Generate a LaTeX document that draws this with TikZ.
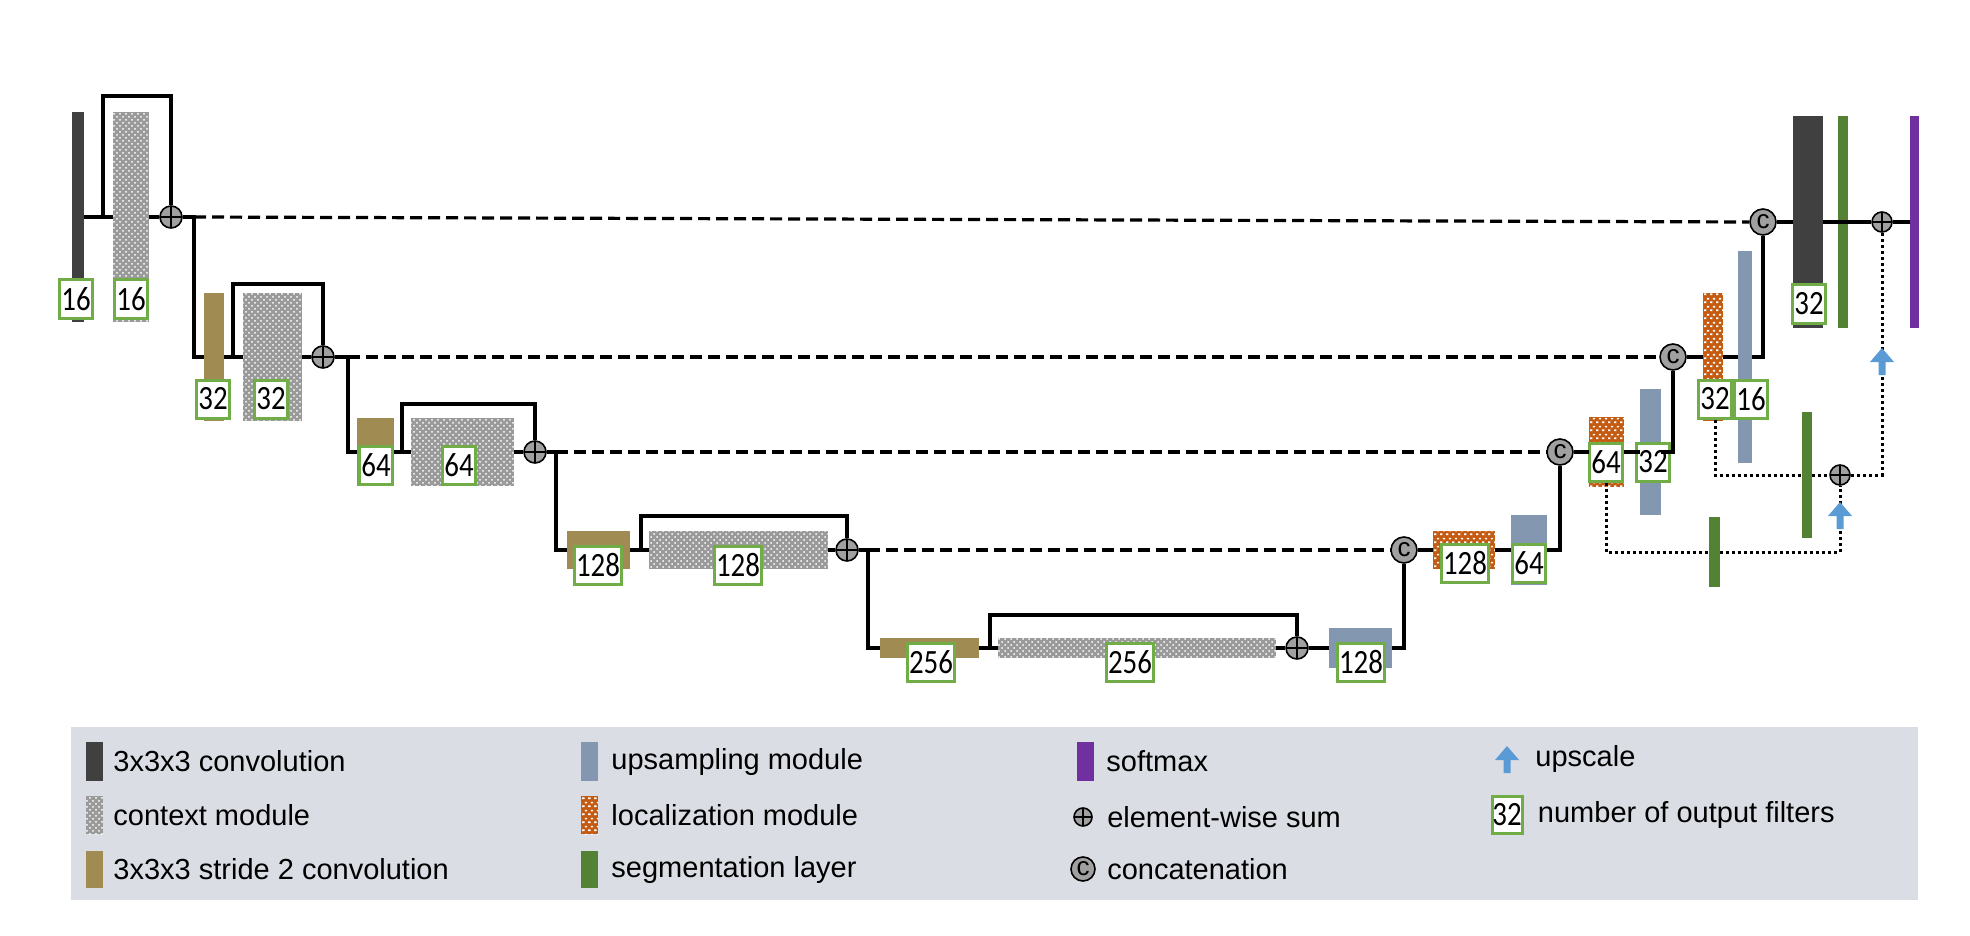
\documentclass[tikz,border=0pt]{standalone}
\usepackage{fontspec}
\setmainfont{Liberation Sans}
\newfontfamily\nffamily[FakeStretch=0.85]{Carlito}
\usetikzlibrary{positioning,fit,patterns}

\definecolor{convgray}{HTML}{404040}
\definecolor{ctxgray}{HTML}{9A9A9A}
\definecolor{strideol}{HTML}{A08B52}
\definecolor{upblue}{HTML}{8497B0}
\definecolor{locorange}{HTML}{C55A11}
\definecolor{seggreen}{HTML}{548235}
\definecolor{smaxpurple}{HTML}{7030A0}
\definecolor{nfgreen}{HTML}{70AD47}
\definecolor{opgray}{HTML}{A0A0A0}
\definecolor{arrowblue}{HTML}{5B9BD5}
\definecolor{legendbg}{HTML}{DADEE4}

% small staggered white bricks for the localization module
\pgfdeclarepatternformonly{locbricks}{\pgfpointorigin}{\pgfqpoint{3pt}{4pt}}{\pgfqpoint{3pt}{4pt}}{%
  \pgfpathrectangle{\pgfqpoint{0.1pt}{0.5pt}}{\pgfqpoint{1.3pt}{0.9pt}}%
  \pgfpathrectangle{\pgfqpoint{1.6pt}{2.5pt}}{\pgfqpoint{1.3pt}{0.9pt}}%
  \pgfusepath{fill}}

% blue block arrow, tip at (#1,#2)
\newcommand{\upscalearrow}[2]{%
  \fill[arrowblue] (#1-3.5,#2+27) -- (#1-3.5,#2+14) -- (#1-12,#2+14)
    -- (#1,#2) -- (#1+12,#2+14) -- (#1+3.5,#2+14) -- (#1+3.5,#2+27) -- cycle;}

\begin{document}
\begin{tikzpicture}[x=0.5pt, y=-0.5pt,
  font=\fontsize{14.5}{17}\selectfont,
  mod/.style={inner sep=0pt, outer sep=0pt},
  conv/.style={mod, fill=convgray},
  ctx/.style={mod, preaction={fill=ctxgray}, pattern=crosshatch dots, pattern color=white},
  stride/.style={mod, fill=strideol},
  upmod/.style={mod, fill=upblue},
  locmod/.style={mod, preaction={fill=locorange}, pattern=locbricks, pattern color=white},
  seg/.style={mod, fill=seggreen},
  smax/.style={mod, fill=smaxpurple},
  nf/.style={draw=nfgreen, line width=1.5pt, fill=white, inner sep=0pt,
    minimum width=16.5pt, minimum height=19pt, font=\nffamily\fontsize{17}{17}\selectfont},
  nfw/.style={nf, minimum width=23.5pt},
  sum/.style={circle, draw, line width=0.8pt, fill=opgray, minimum size=11pt, inner sep=0pt,
    path picture={\draw[line width=0.8pt]
      (path picture bounding box.west) -- (path picture bounding box.east)
      (path picture bounding box.north) -- (path picture bounding box.south);}},
  cat/.style={circle, draw, line width=0.8pt, fill=opgray, minimum size=13pt, inner sep=0pt,
    font=\fontsize{13}{13}\selectfont},
  wire/.style={line width=1.6pt},
  skipline/.style={line width=1.6pt, dash pattern=on 6pt off 3pt},
  deepsup/.style={line width=1.5pt, dash pattern=on 1.5pt off 1.5pt}]
  \useasboundingbox (0,0) rectangle (1970,936);

  % encoder
  \node[conv, fit={(72,112) (84,322)}] (conv1) {};
  \node[ctx, fit={(113,112) (149,322)}] (ctx1) {};
  \node[sum] (sum1) at (171,217) {};
  \node[stride, fit={(204,293) (224,421)}] (stride2) {};
  \node[ctx, fit={(243,293) (302,421)}] (ctx2) {};
  \node[sum] (sum2) at (323,357) {};
  \node[stride, fit={(357,418) (394,486)}] (stride3) {};
  \node[ctx, fit={(411,418) (514,486)}] (ctx3) {};
  \node[sum] (sum3) at (535,452) {};
  \node[stride, fit={(567,531) (630,569)}] (stride4) {};
  \node[ctx, fit={(649,531) (828,569)}] (ctx4) {};
  \node[sum] (sum4) at (847,550) {};
  \node[stride, fit={(880,638) (979,658)}] (stride5) {};
  \node[ctx, fit={(998,638) (1276,658)}] (ctx5) {};
  \node[sum] (sum5) at (1297,648) {};

  % decoder
  \node[upmod, fit={(1329,628) (1392,668)}] (up128) {};
  \node[cat] (cat4) at (1404,550) {c};
  \node[locmod, fit={(1433,531) (1495,569)}] (loc128) {};
  \node[upmod, fit={(1511,515) (1547,585)}] (up64) {};
  \node[cat] (cat3) at (1560,452) {c};
  \node[locmod, fit={(1589,417) (1624,487)}] (loc64) {};
  \node[upmod, fit={(1640,389) (1661,515)}] (up32) {};
  \node[cat] (cat2) at (1673,357) {c};
  \node[locmod, fit={(1703,293) (1723,421)}] (loc32) {};
  \node[upmod, fit={(1738,251) (1752,463)}] (up16) {};
  \node[cat] (cat1) at (1763,222) {c};
  \node[conv, fit={(1793,116) (1823,328)}] (conv32) {};
  \node[seg, fit={(1838,116) (1848,328)}] (seg1) {};
  \node[sum, minimum size=10pt] (sumF) at (1882,222) {};
  \node[smax, fit={(1910,116) (1919,328)}] (smax) {};
  \node[seg, fit={(1802,412) (1812,538)}] (seg2) {};
  \node[sum, minimum size=10pt] (sumS) at (1840,475) {};
  \node[seg, fit={(1709,517) (1720,587)}] (seg3) {};

  % filter counts
  \node[nf] (n-conv1) at (76,299) {16};
  \node[nf] (n-ctx1) at (131,299) {16};
  \node[nf] (n-stride2) at (213,399) {32};
  \node[nf] (n-ctx2) at (271,399) {32};
  \node[nf] (n-stride3) at (376,465) {64};
  \node[nf] (n-ctx3) at (459,465) {64};
  \node[nfw] (n-stride4) at (598,565) {128};
  \node[nfw] (n-ctx4) at (738,565) {128};
  \node[nfw] (n-stride5) at (931,662) {256};
  \node[nfw] (n-ctx5) at (1130,662) {256};
  \node[nfw] (n-up128) at (1361,662) {128};
  \node[nfw] (n-loc128) at (1465,563) {128};
  \node[nf] (n-up64) at (1529,563) {64};
  \node[nf] (n-loc64) at (1606,462) {64};
  \node[nf] (n-up32) at (1653,462) {32};
  \node[nf] (n-loc32) at (1715,399) {32};
  \node[nf] (n-up16) at (1751,399) {16};
  \node[nf] (n-conv32) at (1809,304) {32};

  \coordinate (b1) at (103,217);
  \coordinate (j1) at (194,217);
  \coordinate (b2) at (233,357);
  \coordinate (j2) at (348,357);
  \coordinate (b3) at (402,452);
  \coordinate (j3) at (556,452);
  \coordinate (b4) at (641,550);
  \coordinate (j4) at (868,550);
  \coordinate (b5) at (990,648);

  % encoder wires
  \draw[wire] (conv1.east) -- (ctx1.west);
  \draw[wire] (b1) -- (103,96) -| (sum1.north);
  \draw[wire] (ctx1.east) -- (sum1.west);
  \draw[wire] (sum1.east) -- (j1) |- (stride2.west);
  \draw[wire] (stride2.east) -- (ctx2.west);
  \draw[wire] (b2) -- (233,284) -| (sum2.north);
  \draw[wire] (ctx2.east) -- (sum2.west);
  \draw[wire] (sum2.east) -- (j2) |- (stride3.west);
  \draw[wire] (stride3.east) -- (ctx3.west);
  \draw[wire] (b3) -- (402,404) -| (sum3.north);
  \draw[wire] (ctx3.east) -- (sum3.west);
  \draw[wire] (sum3.east) -- (j3) |- (stride4.west);
  \draw[wire] (stride4.east) -- (ctx4.west);
  \draw[wire] (b4) -- (641,516) -| (sum4.north);
  \draw[wire] (ctx4.east) -- (sum4.west);
  \draw[wire] (sum4.east) -- (j4) |- (stride5.west);
  \draw[wire] (stride5.east) -- (ctx5.west);
  \draw[wire] (b5) -- (990,615) -| (sum5.north);
  \draw[wire] (ctx5.east) -- (sum5.west);

  % skip connections
  \draw[skipline] (j1) -- (cat1.west);
  \draw[skipline] (j2) -- (cat2.west);
  \draw[skipline] (j3) -- (cat3.west);
  \draw[skipline] (j4) -- (cat4.west);

  % decoder wires
  \draw[wire] (sum5.east) -- (up128.west);
  \draw[wire] (up128.east) -| (cat4.south);
  \draw[wire] (cat4.east) -- (loc128.west);
  \draw[wire] (loc128.east) -- (up64.west);
  \draw[wire] (up64.east) -| (cat3.south);
  \draw[wire] (cat3.east) -- (loc64.west);
  \draw[wire] (loc64.east) -- (up32.west);
  \draw[wire] (up32.east) -| (cat2.south);
  \draw[wire] (cat2.east) -- (loc32.west);
  \draw[wire] (loc32.east) -- (up16.west);
  \draw[wire] (up16.east) -| (cat1.south);
  \draw[wire] (cat1.east) -- (conv32.west);
  \draw[wire] (conv32.east) -- (sumF.west);
  \draw[wire] (sumF.east) -- (smax.west);

  % deep supervision
  \draw[deepsup] (n-loc64.south) |- (seg3.west);
  \draw[deepsup] (seg3.east) -| (sumS.south);
  \draw[deepsup] (n-loc32.south) |- (seg2.west);
  \draw[deepsup] (seg2.east) -- (sumS.west);
  \draw[deepsup] (sumS.east) -| (sumF.south);
  \upscalearrow{1882}{348}
  \upscalearrow{1840}{502}

  % legend
  \node[mod, fill=legendbg, fit={(71,727) (1918,900)}] (legend) {};
  \node[conv, fit={(86,742) (103,781)}] (lg-conv) {};
  \node[right=1.7pt of lg-conv] {3x3x3 convolution};
  \node[ctx, fit={(86,796) (103,834)}] (lg-ctx) {};
  \node[right=1.7pt of lg-ctx] {context module};
  \node[stride, fit={(86,851) (103,888)}] (lg-stride) {};
  \node[right=1.7pt of lg-stride] {3x3x3 stride 2 convolution};
  \node[upmod, fit={(581,742) (598,781)}] (lg-up) {};
  \node[right=3.2pt of lg-up] {upsampling module};
  \node[locmod, fit={(581,796) (598,834)}] (lg-loc) {};
  \node[right=3.2pt of lg-loc] {localization module};
  \node[seg, fit={(581,851) (598,888)}] (lg-seg) {};
  \node[right=3.2pt of lg-seg] {segmentation layer};
  \node[smax, fit={(1077,742) (1094,781)}] (lg-smax) {};
  \node[right=2.7pt of lg-smax] {softmax};
  \node[sum, minimum size=9pt] (lg-sum) at (1083,817) {};
  \node[right=3.7pt of lg-sum] {element-wise sum};
  \node[cat, minimum size=12pt] (lg-cat) at (1083,869) {c};
  \node[right=2.2pt of lg-cat] {concatenation};
  \upscalearrow{1507}{746}
  \coordinate (lg-arrow) at (1519,759);
  \node[right=4.7pt of lg-arrow] {upscale};
  \node[nf, minimum width=15pt, minimum height=18.5pt] (lg-nf) at (1507,815) {32};
  \node[right=3.7pt of lg-nf] {number of output filters};
\end{tikzpicture}
\end{document}
